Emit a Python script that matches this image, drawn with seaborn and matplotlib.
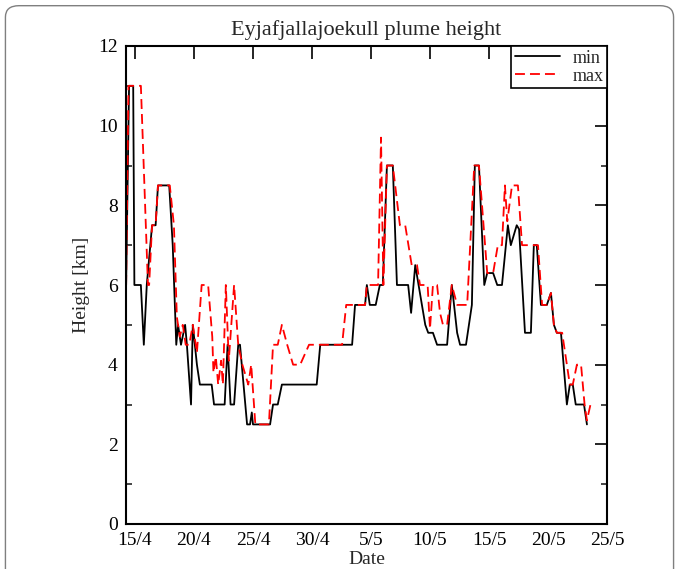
import matplotlib
matplotlib.use("Agg")
import matplotlib.pyplot as plt
import seaborn as sns
import pandas as pd
from matplotlib.patches import FancyBboxPatch

# Day number counted from 1 April 2010 (May days = 30 + day)
min_days = [14.25, 14.5, 14.85, 14.95, 15.5, 15.75, 16.0, 16.45, 16.75, 16.95,
            17.9, 18.2, 18.5, 18.65, 18.9, 19.25, 19.4, 19.75, 19.9, 20.25,
            20.5, 21.5, 21.7, 22.6, 22.85, 23.1, 23.4, 23.75, 23.9, 24.5,
            24.75, 24.9, 25.0, 26.45, 26.7, 27.1, 27.45, 30.4, 30.7, 33.4,
            33.65, 34.5, 34.65, 34.9, 35.4, 35.75, 36.0, 36.35, 36.85, 37.2,
            38.15, 38.4, 38.75, 39.6, 39.85, 40.25, 40.6, 41.45, 41.85, 42.3,
            42.55, 43.05, 43.55, 43.8, 44.15, 44.6, 44.85, 45.35, 45.7, 46.1,
            46.6, 46.85, 47.35, 47.55, 48.05, 48.55, 48.8, 49.05, 49.4, 49.9,
            50.25, 50.5, 50.75, 51.1, 51.6, 51.85, 52.1, 52.35, 53.05, 53.3]
min_vals = [6, 11, 11, 6, 6, 4.5, 6, 7.5, 7.5, 8.5,
            8.5, 7, 4.5, 5, 4.5, 5, 4.5, 3, 5, 4,
            3.5, 3.5, 3, 3, 4.5, 3, 3, 4.5, 4.5, 2.5,
            2.5, 2.8, 2.5, 2.5, 3, 3, 3.5, 3.5, 4.5, 4.5,
            5.5, 5.5, 6, 5.5, 5.5, 6, 6, 9, 9, 6,
            6, 5.3, 6.5, 5.0, 4.8, 4.8, 4.5, 4.5, 6, 4.8,
            4.5, 4.5, 5.5, 9, 9, 6, 6.3, 6.3, 6, 6,
            7.5, 7, 7.5, 7.4, 4.8, 4.8, 7, 7, 5.5, 5.5,
            5.8, 5.0, 4.8, 4.8, 3.0, 3.5, 3.5, 3.0, 3.0, 2.5]

max_days = [14.25, 14.45, 15.5, 16.1, 16.2, 16.45, 16.75, 16.95, 17.95, 18.3,
            18.55, 18.8, 19.05, 19.3, 19.6, 19.9, 20.25, 20.65, 21.2, 21.55,
            21.65, 21.85, 22.05, 22.3, 22.45, 22.7, 22.95, 23.4, 23.75, 24.1,
            24.6, 24.85, 25.2, 26.35, 26.7, 27.1, 27.45, 27.9, 28.4, 29.0,
            29.75, 32.55, 32.9, 34.5, 34.65, 35.6, 35.85, 36.05, 36.35, 36.85,
            37.45, 37.9, 38.45, 38.9, 39.15, 39.8, 40.0, 40.25, 40.6, 40.85,
            41.1, 41.45, 41.85, 42.3, 43.15, 43.75, 44.15, 44.85, 45.35, 45.75,
            46.1, 46.35, 46.55, 46.95, 47.45, 47.8, 49.15, 49.5, 49.9, 50.25,
            50.5, 50.75, 51.2, 51.85, 52.1, 52.45, 52.8, 53.1, 53.3, 53.6]
max_vals = [6, 11, 11, 6, 6, 7.5, 7.5, 8.5, 8.5, 7.5,
            5.2, 4.7, 5.0, 4.5, 4.5, 5.0, 4.3, 6.0, 6.0, 4.7,
            3.8, 4.2, 3.5, 4.1, 3.5, 6.0, 4.1, 6.0, 4.5, 4.0,
            3.5, 4.0, 2.5, 2.5, 4.5, 4.5, 5.0, 4.5, 4.0, 4.0,
            4.5, 4.5, 5.5, 5.5, 6.0, 6.0, 9.7, 6.0, 9.0, 9.0,
            7.5, 7.5, 6.5, 6.5, 6.0, 6.0, 4.9, 6.0, 6.0, 5.3,
            5.0, 5.0, 6.0, 5.5, 5.5, 9.0, 9.0, 6.3, 6.3, 7.0,
            7.0, 8.5, 7.6, 8.5, 8.5, 7.0, 7.0, 5.5, 5.5, 5.8,
            5.0, 4.8, 4.8, 3.5, 3.5, 4.0, 4.0, 3.0, 2.6, 3.0]

tick_days = [15, 20, 25, 30, 35, 40, 45, 50, 55]
tick_labels = ["15/4", "20/4", "25/4", "30/4", "5/5", "10/5", "15/5", "20/5", "25/5"]

sns.set_style("white")
plt.rcParams["font.family"] = ["Liberation Serif", "DejaVu Serif"]

fig = plt.figure(figsize=(6.79, 5.69), dpi=100)
ax = fig.add_axes([126 / 679, 45 / 569, 481 / 679, 478 / 569])

df_min = pd.DataFrame({"day": min_days, "h": min_vals})
df_max = pd.DataFrame({"day": max_days, "h": max_vals})

sns.lineplot(data=df_min, x="day", y="h", ax=ax, color="black", lw=1.3,
             sort=False, label="min")
sns.lineplot(data=df_max, x="day", y="h", ax=ax, color="#ff0000", lw=1.3,
             sort=False, label="max", linestyle=(0, (5.5, 2.8)))

ax.set_xlim(14.24, 55)
ax.set_ylim(0, 12)
ax.set_xticks(tick_days)
ax.set_xticklabels(tick_labels)
ax.set_yticks(range(0, 13, 2))
ax.set_yticks(range(1, 12, 2), minor=True)

for s in ax.spines.values():
    s.set_visible(True)
    s.set_color("black")
    s.set_linewidth(1.5)

ax.tick_params(axis="both", which="major", direction="in", length=9, width=1.2,
               top=True, right=True, labelsize=14, colors="black")
ax.tick_params(axis="y", which="minor", direction="in", length=4.5, width=1.2,
               left=True, right=True)
ax.tick_params(axis="x", which="major", pad=6)
ax.tick_params(axis="y", which="major", pad=6)

ax.set_xlabel("Date", fontsize=14, labelpad=1)
ax.set_ylabel("Height [km]", fontsize=14, labelpad=6)
ax.set_title("Eyjafjallajoekull plume height", fontsize=16, pad=8)

leg = ax.legend(loc="upper right", borderaxespad=0, fancybox=False,
                edgecolor="black", fontsize=13, handlelength=2.5,
                handletextpad=0.7, borderpad=0.2, labelspacing=0.05,
                framealpha=1)
leg.get_frame().set_linewidth(1.2)
leg.set_zorder(10)

border = FancyBboxPatch((0.008, -0.05), 0.984, 1.04, transform=fig.transFigure,
                        boxstyle="round,pad=0,rounding_size=0.02",
                        facecolor="none", edgecolor="#7f7f7f", lw=1.0)
fig.patches.append(border)

fig.savefig("out.png", dpi=100)
